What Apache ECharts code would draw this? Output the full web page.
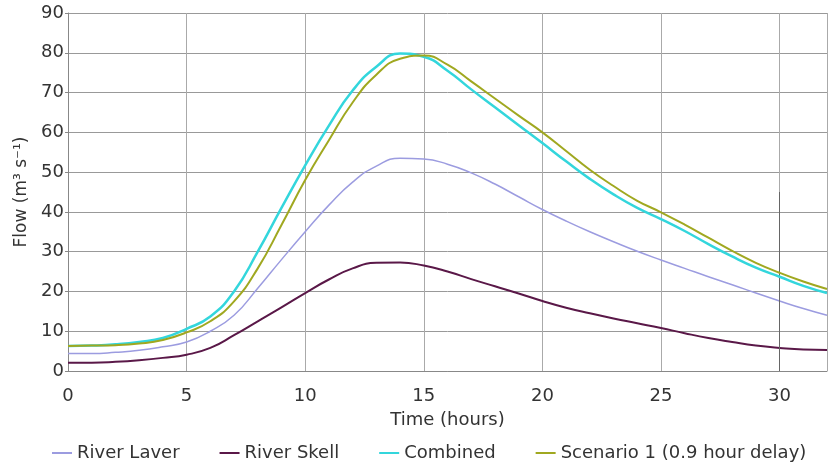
<!DOCTYPE html>
<html>
<head>
<meta charset="utf-8">
<script src="https://cdn.jsdelivr.net/npm/echarts@6/dist/echarts.min.js"></script>
<style>
  html, body { margin: 0; padding: 0; background: #fff; }
  #chart { width: 835px; height: 467px; }
</style>
</head>
<body>
<div id="chart"></div>
<script>
/* hours */
const hours = [0,1,2,3,4,5,6,7,8,9,10,11,12,13,14,15,16,17,18,19,20,21,22,23,24,25,26,27,28,29,30,31,32];

/* flows (m3/s) */
const riverLaver = [4.4,4.4,4.7,5.2,6.1,7.3,10,14,20.8,28,35,41.7,47.5,51.5,53.5,53.3,52,49.8,47,43.8,40.6,37.7,35,32.5,30.1,27.9,25.8,23.7,21.7,19.6,17.6,15.7,14];
const riverSkell = [2.1,2.1,2.3,2.7,3.3,4.1,5.8,9,12.5,16,19.6,23,25.8,27.2,27.3,26.5,25,23.1,21.3,19.5,17.6,15.9,14.5,13.2,12,10.8,9.5,8.3,7.3,6.4,5.8,5.4,5.3];
const combined = [6.3,6.4,6.7,7.3,8.3,10.6,13.7,20,30,41,51.7,61.7,70.5,76.5,79.8,79,75.5,70.8,66.3,61.8,57.3,52.7,48.3,44.4,41,38.2,35.2,31.9,28.8,26,23.7,21.4,19.6];
const scenario1 = [6.3,6.4,6.5,6.9,7.8,9.7,12.5,17.5,25.8,36.7,48,58,67.5,74.5,78.5,79.3,77,72.8,68.5,64.2,60,55.3,50.6,46.5,42.8,39.9,36.8,33.5,30.2,27.2,24.7,22.5,20.6];

/* stray vertical line in the original at 30 h, up to about 45 */
const markerLine = [30, 45];

const names = ['River Laver', 'River Skell', 'Combined', 'Scenario 1 (0.9 hour delay)'];
const colors = ['#9c9ce0', '#5a1848', '#33d6dc', '#a0a820'];
const widths = [1.5, 2, 2.5, 2];
const values = [riverLaver, riverSkell, combined, scenario1];

const font = 'DejaVu Sans';

const chart = echarts.init(document.getElementById('chart'));

const series = values.map((v, i) => ({
    name: names[i],
    type: 'line',
    smooth: true,
    symbol: 'none',
    data: hours.map((h, j) => [h, v[j]]),
    lineStyle: { color: colors[i], width: widths[i] },
    itemStyle: { color: colors[i] },
    z: 3 + i
}));

series[0].markLine = {
    silent: true,
    symbol: 'none',
    label: { show: false },
    lineStyle: { color: '#666', type: 'solid', width: 1 },
    data: [[{ coord: [markerLine[0], 0] }, { coord: [markerLine[0], markerLine[1]] }]]
};

const option = {
    animation: false,
    backgroundColor: '#fff',
    grid: { left: 68, right: 8, top: 13, bottom: 96 },
    legend: {
        left: 47,
        top: 439,
        icon: 'rect',
        itemWidth: 20,
        itemHeight: 2,
        itemGap: 40,
        textStyle: { fontFamily: font, fontSize: 18, color: '#333' },
        data: names
    },
    xAxis: {
        type: 'value',
        min: 0,
        max: 32,
        interval: 5,
        name: 'Time (hours)',
        nameLocation: 'middle',
        nameGap: 40,
        nameTextStyle: { fontFamily: font, fontSize: 18, color: '#333' },
        axisLine: { lineStyle: { color: '#888' } },
        axisTick: { show: false },
        axisLabel: { fontFamily: font, fontSize: 18, color: '#333', margin: 16, showMaxLabel: false },
        splitLine: { show: true, lineStyle: { color: '#aaa' } }
    },
    yAxis: {
        type: 'value',
        min: 0,
        max: 90,
        interval: 10,
        name: 'Flow (m³ s⁻¹)',
        nameLocation: 'middle',
        nameGap: 36,
        nameTextStyle: { fontFamily: font, fontSize: 17, color: '#333' },
        axisLine: { show: true, lineStyle: { color: '#888' } },
        axisTick: { show: true, length: 3, lineStyle: { color: '#888' } },
        axisLabel: { fontFamily: font, fontSize: 18, color: '#333', margin: 4 },
        splitLine: { show: true, lineStyle: { color: '#999' } }
    },
    series
};

chart.setOption(option);
</script>
</body>
</html>
